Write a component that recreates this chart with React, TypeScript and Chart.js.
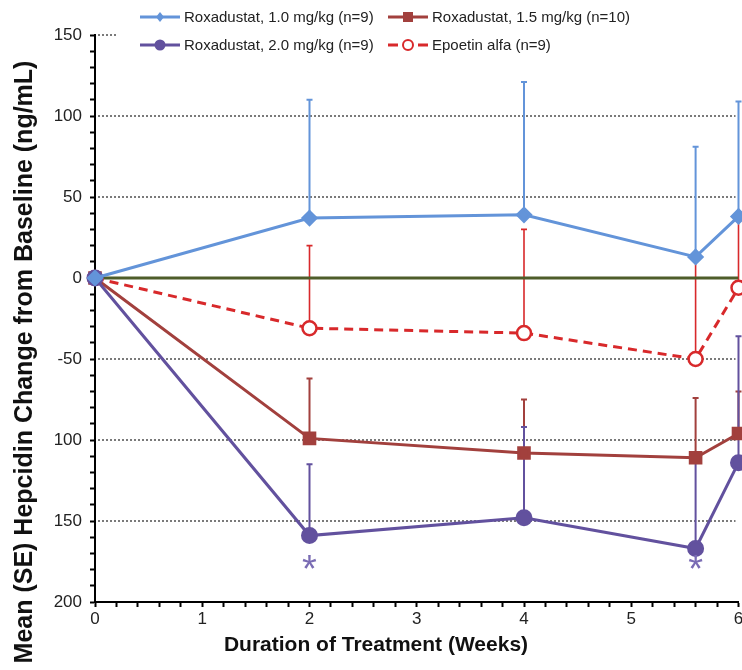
import React, { useEffect, useRef } from 'react';
import { Chart, registerables } from 'chart.js';

Chart.register(...registerables);

// ---------- data ----------
const weeks = [0, 2, 4, 5.6, 6];

const rox10Mean = [0, 37, 39, 13, 38];
const rox10Upper = [null, 110, 121, 81, 109];

const rox15Mean = [0, -99, -108, -111, -96];
const rox15Upper = [null, -62, -75, -74, -70];

const rox20Mean = [0, -159, -148, -167, -114];
const rox20Upper = [null, -115, -92, -111, -36];

const epoMean = [0, -31, -34, -50, -6];
const epoUpper = [null, 20, 30, 13, 38];

const seriesLabels = [
  'Roxadustat, 1.0 mg/kg (n=9)',
  'Roxadustat, 1.5 mg/kg (n=10)',
  'Roxadustat, 2.0 mg/kg (n=9)',
  'Epoetin alfa (n=9)',
];

const yTickValues = [150, 100, 50, 0, -50, -100, -150, -200];
const yTickLabels = ['150', '100', '50', '0', '-50', '100', '150', '200'];
const xTickValues = [0, 1, 2, 3, 4, 5, 6];
const xTickLabels = ['0', '1', '2', '3', '4', '5', '6'];
const gridValues = [100, 50, -50, -100, -150];
const zeroLineWeeks = [0, 6];
const asteriskWeeks = [2, 5.6];
const asteriskValue = -176;

const xTitle = 'Duration of Treatment (Weeks)';
const yTitle = 'Mean (SE) Hepcidin Change from Baseline (ng/mL)';

// ---------- styles ----------
const FONT = "'Liberation Sans', Arial, Helvetica, sans-serif";
const C_BLUE = '#6394d9';
const C_DRED = '#a2403d';
const C_PURPLE = '#62519e';
const C_RED = '#d8292b';
const C_GREEN = '#4e5d2a';
const C_AST = '#7a6cb4';

const toPts = (means: number[]) => weeks.map((w, i) => ({ x: w, y: means[i] }));

const errorSeries = [
  { upper: epoUpper, mean: epoMean, color: C_RED, width: 1.6 },
  { upper: rox15Upper, mean: rox15Mean, color: C_DRED, width: 2 },
  { upper: rox20Upper, mean: rox20Mean, color: C_PURPLE, width: 2 },
  { upper: rox10Upper, mean: rox10Mean, color: C_BLUE, width: 2 },
];

const legendItems = [
  { label: seriesLabels[0], color: C_BLUE, style: 'rectRot', fill: C_BLUE, dash: false, col: 0, row: 0 },
  { label: seriesLabels[1], color: C_DRED, style: 'rect', fill: C_DRED, dash: false, col: 1, row: 0 },
  { label: seriesLabels[2], color: C_PURPLE, style: 'circle', fill: C_PURPLE, dash: false, col: 0, row: 1 },
  { label: seriesLabels[3], color: C_RED, style: 'circle', fill: '#ffffff', dash: true, col: 1, row: 1 },
];

const overlayPlugin = {
  id: 'overlay',
  beforeDatasetsDraw(chart: any) {
    const { ctx, scales, chartArea } = chart;
    const x = scales.x;
    const y = scales.y;
    ctx.save();
    // dotted grid
    ctx.strokeStyle = '#7a7a7a';
    ctx.lineWidth = 2;
    ctx.setLineDash([2, 2]);
    gridValues.forEach((v) => {
      const py = Math.round(y.getPixelForValue(v));
      ctx.beginPath();
      ctx.moveTo(chartArea.left + 3, py);
      ctx.lineTo(chartArea.right - 3, py);
      ctx.stroke();
    });
    const top = Math.round(y.getPixelForValue(150));
    ctx.beginPath();
    ctx.moveTo(chartArea.left + 3, top);
    ctx.lineTo(chartArea.left + 22, top);
    ctx.stroke();
    ctx.setLineDash([]);
    // error bars
    errorSeries.forEach((s) => {
      ctx.strokeStyle = s.color;
      ctx.lineWidth = s.width;
      weeks.forEach((w, i) => {
        const up = s.upper[i];
        if (up === null || up === undefined) return;
        const px = x.getPixelForValue(w);
        const p0 = y.getPixelForValue(s.mean[i]);
        const p1 = y.getPixelForValue(up);
        ctx.beginPath();
        ctx.moveTo(px, p0);
        ctx.lineTo(px, p1);
        ctx.moveTo(px - 3, p1);
        ctx.lineTo(px + 3, p1);
        ctx.stroke();
      });
    });
    ctx.restore();
  },
  afterDraw(chart: any) {
    const { ctx, scales } = chart;
    const x = scales.x;
    const y = scales.y;
    ctx.save();
    // asterisks
    ctx.fillStyle = C_AST;
    ctx.font = `38px ${FONT}`;
    ctx.textAlign = 'center';
    ctx.textBaseline = 'middle';
    asteriskWeeks.forEach((w) => {
      ctx.fillText('*', x.getPixelForValue(w), y.getPixelForValue(asteriskValue) + 8);
    });
    // legend
    const colX = [140, 388];
    const rowY = [17, 45];
    legendItems.forEach((it) => {
      const lx = colX[it.col];
      const ly = rowY[it.row];
      ctx.strokeStyle = it.color;
      ctx.lineWidth = 3;
      ctx.beginPath();
      if (it.dash) {
        ctx.moveTo(lx, ly);
        ctx.lineTo(lx + 10, ly);
        ctx.moveTo(lx + 30, ly);
        ctx.lineTo(lx + 40, ly);
      } else {
        ctx.moveTo(lx, ly);
        ctx.lineTo(lx + 40, ly);
      }
      ctx.stroke();
      ctx.fillStyle = it.fill;
      ctx.lineWidth = 2;
      const cx = lx + 20;
      if (it.style === 'circle') {
        ctx.beginPath();
        ctx.arc(cx, ly, it.dash ? 5 : 4.5, 0, Math.PI * 2);
        ctx.fill();
        ctx.stroke();
      } else if (it.style === 'rect') {
        ctx.fillRect(cx - 5, ly - 5, 10, 10);
      } else {
        ctx.beginPath();
        ctx.moveTo(cx, ly - 5);
        ctx.lineTo(cx + 4, ly);
        ctx.lineTo(cx, ly + 5);
        ctx.lineTo(cx - 4, ly);
        ctx.closePath();
        ctx.fill();
      }
      ctx.fillStyle = '#222';
      ctx.font = `15px ${FONT}`;
      ctx.textAlign = 'left';
      ctx.textBaseline = 'middle';
      ctx.fillText(it.label, lx + 44, ly + 1);
    });
    // axis titles
    ctx.fillStyle = '#111';
    ctx.font = `bold 21px ${FONT}`;
    ctx.textAlign = 'center';
    ctx.textBaseline = 'middle';
    ctx.fillText(xTitle, 376, 645);
    ctx.translate(25, 362);
    ctx.rotate(-Math.PI / 2);
    ctx.font = `bold 25px ${FONT}`;
    ctx.fillText(yTitle, 0, 0);
    ctx.restore();
  },
};

const CANVAS_W = 749;
const CANVAS_H = 670;

export default function App() {
  const ref = useRef<HTMLCanvasElement>(null);

  useEffect(() => {
    if (!ref.current) return;
    const chart = new Chart(ref.current, {
      type: 'line',
      data: {
        datasets: [
          {
            label: 'zero',
            data: zeroLineWeeks.map((w) => ({ x: w, y: 0 })),
            borderColor: C_GREEN,
            borderWidth: 3,
            pointRadius: 0,
            order: 10,
          },
          {
            label: seriesLabels[3],
            data: toPts(epoMean),
            borderColor: C_RED,
            borderWidth: 3,
            borderDash: [9, 6],
            pointStyle: 'circle',
            pointRadius: 7,
            pointBorderWidth: 2.5,
            pointBackgroundColor: '#ffffff',
            pointBorderColor: C_RED,
            clip: false,
            order: 4,
          },
          {
            label: seriesLabels[1],
            data: toPts(rox15Mean),
            borderColor: C_DRED,
            borderWidth: 3,
            pointStyle: 'rect',
            pointRadius: 7.5,
            pointBackgroundColor: C_DRED,
            pointBorderColor: C_DRED,
            clip: false,
            order: 3,
          },
          {
            label: seriesLabels[2],
            data: toPts(rox20Mean),
            borderColor: C_PURPLE,
            borderWidth: 3,
            pointStyle: 'circle',
            pointRadius: 7,
            pointBackgroundColor: C_PURPLE,
            pointBorderColor: C_PURPLE,
            clip: false,
            order: 2,
          },
          {
            label: seriesLabels[0],
            data: toPts(rox10Mean),
            borderColor: C_BLUE,
            borderWidth: 3,
            pointStyle: 'rectRot',
            pointRadius: 6.5,
            pointBackgroundColor: C_BLUE,
            pointBorderColor: C_BLUE,
            clip: false,
            order: 1,
          },
        ],
      },
      options: {
        animation: false,
        responsive: false,
        maintainAspectRatio: false,
        layout: { padding: { left: 0, top: 35, right: 0, bottom: 0 } },
        plugins: { legend: { display: false }, tooltip: { enabled: false } },
        scales: {
          x: {
            type: 'linear',
            min: 0,
            max: 6,
            afterFit: (s: any) => {
              s.height = 68;
            },
            afterBuildTicks: (s: any) => {
              const t = [];
              for (let i = 0; i <= 30; i++) t.push({ value: i / 5 });
              s.ticks = t;
            },
            ticks: {
              autoSkip: false,
              maxRotation: 0,
              padding: 2,
              color: '#222',
              font: { family: FONT, size: 17 },
              callback: (v: any) => {
                const idx = xTickValues.findIndex((t) => Math.abs(t - Number(v)) < 1e-6);
                return idx >= 0 ? xTickLabels[idx] : '';
              },
            },
            grid: { drawOnChartArea: false, drawTicks: true, tickLength: 5, tickColor: '#000', tickWidth: 2 },
            border: { color: '#000', width: 2 },
          },
          y: {
            type: 'linear',
            min: -200,
            max: 150,
            afterFit: (s: any) => {
              s.width = 95;
            },
            afterBuildTicks: (s: any) => {
              const t = [];
              for (let v = -200; v <= 150; v += 10) t.push({ value: v });
              s.ticks = t;
            },
            ticks: {
              autoSkip: false,
              padding: 8,
              color: '#222',
              font: { family: FONT, size: 17 },
              callback: (v: any) => {
                const idx = yTickValues.indexOf(Number(v));
                return idx >= 0 ? yTickLabels[idx] : '';
              },
            },
            grid: { drawOnChartArea: false, drawTicks: true, tickLength: 5, tickColor: '#000', tickWidth: 2 },
            border: { color: '#000', width: 2 },
          },
        },
      },
      plugins: [overlayPlugin],
    } as any);
    return () => chart.destroy();
  }, []);

  return (
    <div style={{ position: 'absolute', left: 0, top: 0, width: 742, height: 670, overflow: 'hidden', background: '#fff' }}>
      <canvas ref={ref} width={CANVAS_W} height={CANVAS_H} style={{ display: 'block', width: CANVAS_W, height: CANVAS_H }} />
    </div>
  );
}
